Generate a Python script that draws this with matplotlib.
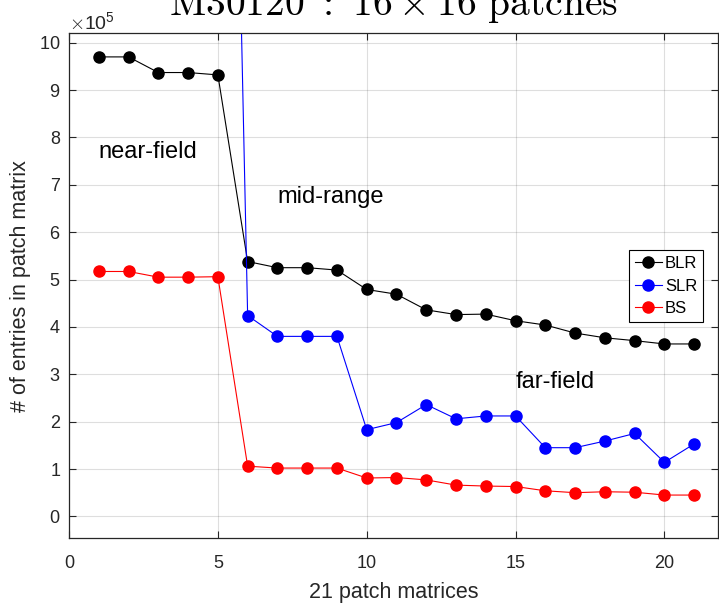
import numpy as np
import matplotlib
matplotlib.use("Agg")
from matplotlib import pyplot as plt
from matplotlib.ticker import ScalarFormatter

plt.rcParams['font.family'] = ['Liberation Sans', 'DejaVu Sans']
plt.rcParams['mathtext.fontset'] = 'cm'

# entries per patch matrix, 21 patch matrices
patch_idx = np.arange(1, 22)
blr = np.array([9.70, 9.70, 9.37, 9.37, 9.32, 5.38, 5.25, 5.25, 5.20, 4.79, 4.69,
                4.36, 4.26, 4.27, 4.13, 4.04, 3.87, 3.77, 3.71, 3.64, 3.64]) * 1e5
slr = np.array([34.0, 34.0, 33.6, 33.6, 33.3, 4.24, 3.80, 3.80, 3.80, 1.83, 1.98,
                2.36, 2.06, 2.12, 2.12, 1.45, 1.45, 1.59, 1.75, 1.14, 1.53]) * 1e5
bs = np.array([5.17, 5.17, 5.05, 5.05, 5.06, 1.06, 1.02, 1.02, 1.02, 0.81, 0.82,
               0.77, 0.66, 0.64, 0.63, 0.54, 0.50, 0.52, 0.51, 0.45, 0.45]) * 1e5
series_names = ['BLR', 'SLR', 'BS']
series_colors = ['black', 'blue', 'red']

region_labels = ['near-field', 'mid-range', 'far-field']
region_pos = [(1, 7.57e5), (7, 6.62e5), (15, 2.72e5)]

fig = plt.figure(figsize=(7.19, 6.04), dpi=100)
ax = fig.add_axes([0.096, 0.109, 0.9026, 0.836])

gray = (0.15, 0.15, 0.15)
for vals, name, col in zip([blr, slr, bs], series_names, series_colors):
    ax.plot(patch_idx, vals, '-o', color=col, lw=0.8, ms=8, mfc=col, mec=col, label=name)

for txt, (x, y) in zip(region_labels, region_pos):
    ax.text(x, y, txt, fontsize=17, va='baseline', ha='left')

ax.set_xlim(0, 21.8)
ax.set_ylim(-0.46e5, 10.2e5)
ax.set_xticks([0, 5, 10, 15, 20])
ax.set_yticks(np.arange(0, 11) * 1e5)

fmt = ScalarFormatter(useMathText=True)
fmt.set_powerlimits((5, 5))
ax.yaxis.set_major_formatter(fmt)
ax.yaxis.get_offset_text().set_fontsize(14)
ax.yaxis.get_offset_text().set_color(gray)

ax.grid(True, color=gray, alpha=0.15, lw=0.8)
ax.tick_params(direction='in', top=True, right=True, labelsize=13, colors=gray,
               length=5, width=0.8)
ax.tick_params(axis='x', pad=12)
ax.tick_params(axis='y', pad=6)
for s in ax.spines.values():
    s.set_color(gray)
    s.set_linewidth(0.9)

ax.set_xlabel('21 patch matrices', fontsize=15.5, color=gray, labelpad=7)
ax.set_ylabel('# of entries in patch matrix', fontsize=15.5, color=gray, labelpad=6)
ax.set_title(r'$\mathrm{M30120\ :\ 16 \times 16\ patches}$', fontsize=28.5, pad=13)

leg = ax.legend(loc='upper right', bbox_to_anchor=(0.977, 0.570), fontsize=12,
                handlelength=1.6, handletextpad=0.2, borderpad=0.35, labelspacing=0.45,
                fancybox=False, framealpha=1, edgecolor='black', borderaxespad=0)
leg.get_frame().set_linewidth(0.8)

fig.savefig('out.png', dpi=100)
